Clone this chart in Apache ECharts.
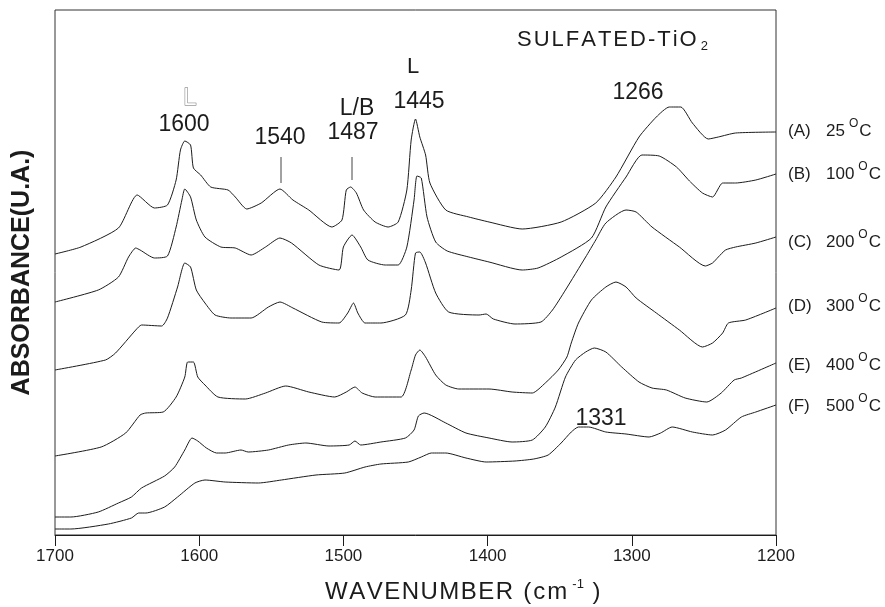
<!DOCTYPE html>
<html>
<head>
<meta charset="utf-8">
<title>Sulfated TiO2 - IR spectra</title>
<script src="https://cdn.jsdelivr.net/npm/echarts@6/dist/echarts.min.js"></script>
<style>
  html, body { margin: 0; padding: 0; background: #fff; }
  #chart { width: 885px; height: 607px; }
</style>
</head>
<body>
<div id="chart"></div>
<script>
  // wavenumber (cm-1) and absorbance (a.u., stacked offsets)
  const waveA = [1700,1682,1656,1643,1631,1622,1616,1613,1610,1606,1604,1599,1592,1580,1575,1567,1557,1544,1535,1524,1508,1501,1498,1495,1491,1486,1478,1469,1462,1456,1453,1450,1447,1443,1440,1429,1413,1399,1376,1349,1325,1311,1295,1283,1274,1266,1258,1247,1240,1228,1200]
  const absA  = [2.81,2.88,3.07,3.40,3.27,3.30,3.55,3.85,3.94,3.90,3.67,3.60,3.48,3.45,3.38,3.26,3.32,3.46,3.35,3.25,3.08,3.15,3.45,3.48,3.42,3.25,3.13,3.08,3.13,3.45,3.95,4.16,3.98,3.80,3.52,3.25,3.18,3.13,3.06,3.13,3.32,3.58,3.98,4.18,4.28,4.28,4.12,3.96,3.98,4.02,4.03]

  const waveB = [1700,1670,1656,1649,1644,1641,1631,1622,1616,1612,1610,1606,1602,1596,1585,1575,1564,1554,1544,1536,1517,1503,1500,1494,1488,1483,1471,1462,1456,1451,1449,1446,1442,1436,1428,1413,1399,1376,1365,1349,1328,1318,1304,1293,1281,1269,1260,1251,1244,1237,1228,1214,1200]
  const absB  = [2.33,2.45,2.58,2.78,2.87,2.85,2.77,2.79,3.08,3.35,3.46,3.38,3.15,2.98,2.88,2.87,2.80,2.88,2.97,2.92,2.70,2.65,2.88,3.00,2.88,2.75,2.70,2.70,2.88,3.35,3.59,3.57,3.18,2.93,2.84,2.78,2.73,2.65,2.67,2.78,2.97,3.28,3.58,3.80,3.79,3.68,3.54,3.42,3.38,3.52,3.52,3.55,3.61]

  const waveC = [1700,1665,1658,1644,1640,1626,1622,1615,1610,1606,1602,1596,1589,1578,1564,1552,1544,1535,1515,1503,1497,1493,1490,1485,1474,1457,1453,1450,1447,1443,1436,1427,1406,1401,1396,1381,1363,1355,1346,1332,1325,1318,1304,1297,1286,1267,1249,1244,1240,1235,1228,1214,1200]
  const absC  = [1.65,1.75,1.82,2.05,2.10,2.09,2.17,2.48,2.72,2.68,2.45,2.32,2.20,2.17,2.17,2.28,2.33,2.27,2.13,2.12,2.22,2.32,2.22,2.12,2.12,2.20,2.45,2.82,2.83,2.72,2.42,2.23,2.20,2.21,2.16,2.11,2.13,2.25,2.45,2.78,2.95,3.12,3.25,3.23,3.08,2.88,2.69,2.72,2.78,2.85,2.88,2.92,2.98]

  const waveD = [1700,1668,1651,1641,1637,1625,1616,1610,1608,1604,1601,1596,1587,1568,1554,1540,1524,1506,1498,1492,1487,1478,1460,1453,1450,1447,1443,1436,1429,1420,1399,1383,1369,1360,1351,1345,1342,1337,1328,1318,1311,1304,1297,1283,1267,1251,1244,1237,1233,1221,1200]
  const absD  = [0.79,0.88,1.02,1.20,1.22,1.23,1.38,1.58,1.73,1.73,1.58,1.50,1.38,1.36,1.42,1.49,1.43,1.38,1.43,1.48,1.42,1.38,1.38,1.65,1.80,1.85,1.78,1.60,1.50,1.46,1.46,1.43,1.42,1.52,1.65,1.78,1.92,2.12,2.35,2.48,2.53,2.48,2.37,2.22,2.05,1.88,1.92,2.02,2.12,2.15,2.27]

  const waveE = [1700,1689,1670,1656,1647,1640,1624,1617,1610,1605,1601,1595,1588,1582,1571,1566,1552,1538,1526,1510,1496,1492,1488,1474,1457,1451,1448,1444,1429,1415,1399,1383,1369,1360,1353,1346,1339,1332,1326,1318,1307,1295,1286,1276,1263,1248,1238,1229,1224,1200]
  const absE  = [0.18,0.18,0.23,0.32,0.38,0.47,0.59,0.68,0.85,0.97,0.94,0.87,0.82,0.82,0.85,0.83,0.85,0.90,0.92,0.89,0.90,0.94,0.90,0.93,0.97,1.05,1.19,1.22,1.12,1.02,0.97,0.93,0.95,1.08,1.28,1.58,1.75,1.83,1.87,1.83,1.68,1.53,1.47,1.45,1.37,1.33,1.42,1.55,1.57,1.72]

  const waveF = [1700,1689,1663,1647,1642,1637,1624,1615,1603,1596,1582,1559,1543,1519,1499,1485,1474,1455,1446,1439,1429,1415,1401,1381,1368,1358,1349,1342,1337,1330,1318,1304,1288,1280,1272,1258,1244,1235,1224,1214,1200]
  const absF  = [0.06,0.06,0.11,0.17,0.22,0.22,0.28,0.38,0.52,0.55,0.53,0.52,0.55,0.60,0.62,0.68,0.71,0.73,0.78,0.82,0.82,0.77,0.73,0.74,0.76,0.80,0.92,1.03,1.08,1.08,1.03,1.01,0.98,1.02,1.08,1.03,1.00,1.05,1.18,1.23,1.30]

  const xTicks = [1700, 1600, 1500, 1400, 1300, 1200]
  const sampleTags = ['(A)', '(B)', '(C)', '(D)', '(E)', '(F)']
  const sampleTemps = ['25', '100', '200', '300', '400', '500']

  const FONT = '"Liberation Sans", Arial, Helvetica, sans-serif'
  const INK = '#1c1c1c'

  function zip(xs, ys) {
    return xs.map((x, i) => [x, ys[i]])
  }

  // one rich token per character, so the old typewriter letter spacing can be mimicked
  function spaced(str, key) {
    return str.split('').map(ch => '{' + key + '|' + ch + '}').join('')
  }

  function spectrum(name, xs, ys) {
    return {
      name: name,
      type: 'line',
      data: zip(xs, ys),
      showSymbol: false,
      smooth: 0.2,
      silent: true,
      lineStyle: { color: INK, width: 1 },
      animation: false
    }
  }

  function txt(x, y, text, size, extra) {
    const el = {
      type: 'text',
      x: x,
      y: y,
      silent: true,
      style: {
        text: text,
        fontSize: size,
        fontFamily: FONT,
        fill: INK,
        align: 'center',
        verticalAlign: 'middle'
      }
    }
    Object.assign(el.style, extra || {})
    return el
  }

  function legendRow(i, y) {
    return txt(788, y, '{p|' + sampleTags[i] + '}{n|' + sampleTemps[i] + '}{s|O}{c|C}', 17, {
      align: 'left',
      rich: {
        p: { fontSize: 17, fontFamily: FONT, width: 38 },
        n: { fontSize: 17, fontFamily: FONT },
        s: { fontSize: 12, fontFamily: FONT, padding: [0, 1, 14, 4] },
        c: { fontSize: 17, fontFamily: FONT }
      }
    })
  }

  const chart = echarts.init(document.getElementById('chart'))

  const legendY = [131, 174, 242, 306, 365, 406]

  chart.setOption({
    backgroundColor: '#fff',
    animation: false,
    grid: {
      left: 55, right: 109, top: 10, bottom: 72,
      show: true, borderColor: '#333', borderWidth: 1
    },
    xAxis: {
      type: 'value',
      inverse: true,
      min: 1200,
      max: 1700,
      interval: 100,
      axisLine: { lineStyle: { color: INK, width: 1 } },
      axisTick: { inside: false, length: 11, lineStyle: { color: INK } },
      axisLabel: {
        color: INK, fontSize: 17, fontFamily: FONT, margin: 13,
        formatter: v => (xTicks.indexOf(v) >= 0 ? String(v) : '')
      },
      splitLine: { show: false }
    },
    yAxis: {
      type: 'value',
      min: 0,
      max: 5.25,
      name: 'ABSORBANCE(U.A.)',
      nameLocation: 'middle',
      nameRotate: 90,
      nameGap: 20,
      nameTextStyle: { color: INK, fontSize: 25, fontWeight: 'bold', fontFamily: FONT },
      axisLine: { show: false },
      axisTick: { show: false },
      axisLabel: { show: false },
      splitLine: { show: false }
    },
    series: [
      spectrum('A', waveA, absA),
      spectrum('B', waveB, absB),
      spectrum('C', waveC, absC),
      spectrum('D', waveD, absD),
      spectrum('E', waveE, absE),
      spectrum('F', waveF, absF)
    ],
    graphic: [
      // title
      txt(517, 40, spaced('SULFATED-TiO', 'k') + '{sub|2}', 22, {
        align: 'left',
        rich: {
          k: { fontSize: 22, fontFamily: FONT, padding: [0, 2, 0, 0] },
          sub: { fontSize: 13, fontFamily: FONT, padding: [12, 0, 0, 2] }
        }
      }),
      // x axis title
      txt(325, 592, spaced('WAVENUMBER', 'k') + spaced(' (cm', 'm') + '{sup|-1}{m| )}', 24, {
        align: 'left',
        rich: {
          k: { fontSize: 24, fontFamily: FONT, padding: [0, 1.5, 0, 0] },
          m: { fontSize: 24, fontFamily: FONT, padding: [0, 2, 0, 0] },
          sup: { fontSize: 13, fontFamily: FONT, padding: [0, 2, 16, 3] }
        }
      }),
      // peak assignments
      txt(190, 98, 'L', 24, { fill: '#fff', stroke: '#666', lineWidth: 1 }),
      txt(184, 125, '1600', 23),
      txt(280, 138, '1540', 23),
      txt(357, 109, 'L/B', 23),
      txt(353, 133, '1487', 23),
      txt(413, 67, 'L', 22),
      txt(419, 102, '1445', 23),
      txt(638, 93, '1266', 23),
      txt(601, 419, '1331', 23),
      { type: 'line', silent: true, shape: { x1: 281, y1: 157, x2: 281, y2: 183 }, style: { stroke: '#444', lineWidth: 1 } },
      { type: 'line', silent: true, shape: { x1: 352, y1: 157, x2: 352, y2: 180 }, style: { stroke: '#444', lineWidth: 1 } }
    ].concat(legendY.map((y, i) => legendRow(i, y)))
  })
</script>
</body>
</html>
